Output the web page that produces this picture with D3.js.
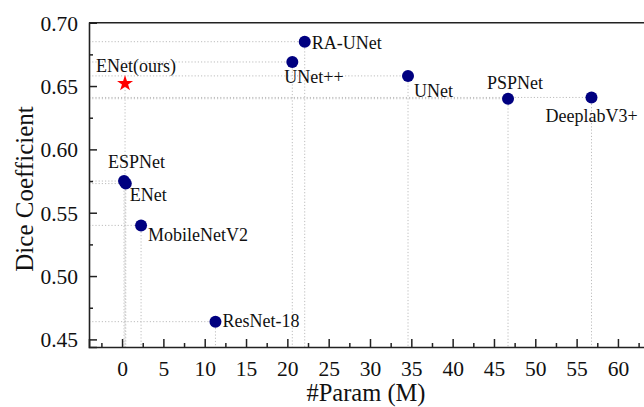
<!DOCTYPE html>
<html><head><meta charset="utf-8">
<script src="https://cdn.jsdelivr.net/npm/d3@7"></script>
<style>html,body{margin:0;padding:0;background:#fff;overflow:hidden}</style>
</head><body>
<svg id="c" width="644" height="407"></svg>
<script>
// ---- data ----
const models   = ["ENet(ours)","RA-UNet","UNet++","UNet","PSPNet","DeeplabV3+","ESPNet","ENet","MobileNetV2","ResNet-18"];
const params   = [0.36, 22.1, 20.6, 34.6, 46.7, 56.8, 0.24, 0.45, 2.3, 11.3];
const dice     = [0.652, 0.685, 0.669, 0.658, 0.640, 0.641, 0.575, 0.573, 0.540, 0.464];
const isOurs   = [true,false,false,false,false,false,false,false,false,false];
const xTicks   = [0,5,10,15,20,25,30,35,40,45,50,55,60];
const yTicks   = [0.45,0.50,0.55,0.60,0.65,0.70];
// label placement (offsets in px from the marker) - styling only
const labelDx  = [-29, 7, -8, 6, -21, -46, -16, 4, 7, 7];
const labelDy  = [-12, 7, 21, 21, -10, 25, -13, 17, 16, 5];

const svg = d3.select("#c");
const L = 89, T = 22.7, B = 347, R = 651;
const x = d3.scaleLinear().domain([-4, 64]).range([L, R]);
const y = d3.scaleLinear().domain([0.444, 0.70]).range([B, T]);
const font = '"Liberation Serif"';

// reference dotted lines
const g = svg.append("g");
models.forEach((m,i)=>{
  if(!isOurs[i]) g.append("line").attr("x1",L).attr("x2",x(params[i])).attr("y1",y(dice[i])).attr("y2",y(dice[i]))
    .attr("stroke","#bdbdbd").attr("stroke-width",1).attr("stroke-dasharray","1.2,2");
  g.append("line").attr("x1",x(params[i])).attr("x2",x(params[i])).attr("y1",y(dice[i])).attr("y2",B)
    .attr("stroke","#bdbdbd").attr("stroke-width",1).attr("stroke-dasharray","1.2,2");
});

// frame top
svg.append("line").attr("x1",L).attr("x2",644).attr("y1",T).attr("y2",T).attr("stroke","#222").attr("stroke-width",1.6);

// axes
const xMinor = d3.range(-2.5, 64, 5);
const yMinor = d3.range(0.475, 0.70, 0.05);
const xa = svg.append("g").attr("transform",`translate(0,${B})`)
  .call(d3.axisBottom(x).tickValues(xTicks).tickSize(-8).tickPadding(14).tickFormat(d3.format("d")));
svg.append("g").attr("transform",`translate(0,${B})`)
  .call(d3.axisBottom(x).tickValues(xMinor).tickSize(-4).tickFormat(""))
  .call(s=>s.select(".domain").remove());
const ya = svg.append("g").attr("transform",`translate(${L},0)`)
  .call(d3.axisLeft(y).tickValues(yTicks).tickSize(-8).tickPadding(11).tickFormat(d3.format(".2f")));
svg.append("g").attr("transform",`translate(${L},0)`)
  .call(d3.axisLeft(y).tickValues(yMinor).tickSize(-4).tickFormat(""))
  .call(s=>s.select(".domain").remove());
svg.selectAll(".domain").attr("stroke","#222").attr("stroke-width",1.6);
svg.selectAll(".tick line").attr("stroke","#222").attr("stroke-width",1.5);
svg.selectAll(".tick text").style("font-family",font).style("font-size","21.5px").attr("fill","#111");
ya.selectAll(".tick text").attr("dy","0.34em");
xa.selectAll(".tick text").attr("dy","0.68em");

// titles
svg.append("text").attr("x",366).attr("y",401).attr("text-anchor","middle")
  .style("font-family",font).style("font-size","24.5px").attr("fill","#111").text("#Param (M)");
svg.append("text").attr("transform","translate(33,189) rotate(-90)").attr("text-anchor","middle")
  .style("font-family",font).style("font-size","25px").attr("fill","#111").text("Dice Coefficient");

// markers
models.forEach((m,i)=>{
  const px = x(params[i]), py = y(dice[i]);
  if(isOurs[i]){
    svg.append("path").attr("d", d3.symbol().type(d3.symbolStar).size(80)())
      .attr("transform",`translate(${px},${py})`).attr("fill","#ff0000");
  } else {
    svg.append("circle").attr("cx",px).attr("cy",py).attr("r",6).attr("fill","#000080");
  }
});
// labels
models.forEach((m,i)=>{
  svg.append("text").attr("x",x(params[i])+labelDx[i]).attr("y",y(dice[i])+labelDy[i])
    .style("font-family",font).style("font-size","18px").attr("fill","#111").text(m);
});
</script>
</body></html>
